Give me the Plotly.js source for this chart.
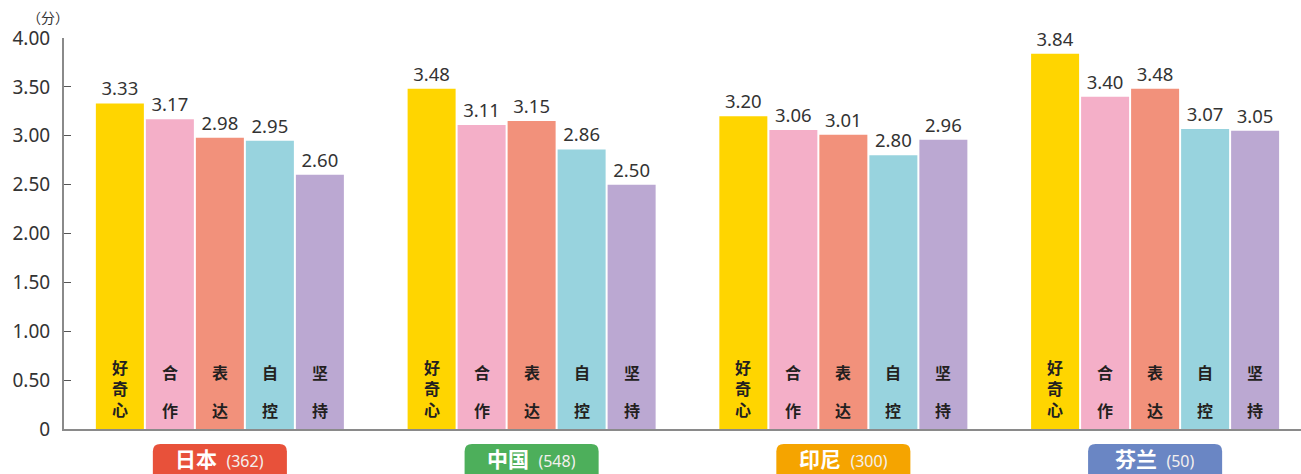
<!DOCTYPE html>
<html>
<head>
<meta charset="utf-8">
<script src="https://cdn.plot.ly/plotly-3.0.1.min.js"></script>
<style>html,body{margin:0;padding:0;background:#fff;}#chart{width:1301px;height:474px;}</style>
</head>
<body>
<div id="chart"></div>
<script>
const countries = ['日本', '中国', '印尼', '芬兰'];
const sampleSizes = [362, 548, 300, 50];
const dimensions = ['好奇心', '合作', '表达', '自控', '坚持'];
const curiosity   = [3.33, 3.48, 3.20, 3.84];
const cooperation = [3.17, 3.11, 3.06, 3.40];
const expression  = [2.98, 3.15, 3.01, 3.48];
const selfControl = [2.95, 2.86, 2.80, 3.07];
const persistence = [2.60, 2.50, 2.96, 3.05];
const yTickVals = [0, 0.5, 1, 1.5, 2, 2.5, 3, 3.5, 4];
const yTickText = ['0', '0.50', '1.00', '1.50', '2.00', '2.50', '3.00', '3.50', '4.00'];
const unitLabel = '（分）';

const seriesValues = [curiosity, cooperation, expression, selfControl, persistence];
const barColors = ['#FFD500', '#F4AFC8', '#F2917B', '#98D3DE', '#BBA8D2'];
const countryColors = ['#E8513A', '#4DAF5B', '#F5A400', '#6A86C4'];
const FONT = 'Noto Sans, Noto Sans CJK SC, sans-serif';
const CJK = 'Noto Sans CJK SC, sans-serif';

const xIdx = countries.map((c, i) => i);
const bargap = 0.198;
const slot = (1 - bargap) / dimensions.length;

const traces = dimensions.map((d, k) => ({
  type: 'bar',
  name: d,
  x: xIdx,
  y: seriesValues[k],
  marker: {color: barColors[k]},
  text: seriesValues[k].map(v => v.toFixed(2)),
  textposition: 'outside',
  textfont: {family: FONT, size: 18.5, color: '#333'},
  cliponaxis: false,
  hoverinfo: 'skip'
}));

// vertical labels inside bars
const annotations = [];
dimensions.forEach((d, k) => {
  const chars = Array.from(d);
  xIdx.forEach(i => {
    const xc = i + (k - 2) * slot;
    if (chars.length === 3) {
      annotations.push({
        x: xc, y: 0.415, xref: 'x', yref: 'y',
        text: '<b>' + chars.join('<br>') + '</b>', showarrow: false,
        font: {family: CJK, size: 16, color: '#231f20'},
        xanchor: 'center', yanchor: 'middle', borderpad: 0
      });
    } else {
      const ys = [0.586, 0.194];
      chars.forEach((ch, j) => {
        annotations.push({
          x: xc, y: ys[j], xref: 'x', yref: 'y',
          text: '<b>' + ch + '</b>', showarrow: false,
          font: {family: CJK, size: 16, color: '#231f20'},
          xanchor: 'center', yanchor: 'middle', borderpad: 0
        });
      });
    }
  });
});

// group label boxes
const shapes = [];
const halfW = 0.215, rx = 0.024;
const yTop = -0.0384, yBot = -0.14, ry = 0.019;
countries.forEach((c, i) => {
  const x0 = i - halfW, x1 = i + halfW;
  const path = `M ${x0 + rx},${yTop} L ${x1 - rx},${yTop} Q ${x1},${yTop} ${x1},${yTop - ry} L ${x1},${yBot} L ${x0},${yBot} L ${x0},${yTop - ry} Q ${x0},${yTop} ${x0 + rx},${yTop} Z`;
  shapes.push({type: 'path', xref: 'x', yref: 'paper', path: path,
    fillcolor: countryColors[i], line: {width: 0}, layer: 'above'});
  annotations.push({
    x: i, y: -0.075, xref: 'x', yref: 'paper', showarrow: false,
    xanchor: 'center', yanchor: 'middle', height: 24, borderpad: 0,
    text: '<b>' + c + '</b>  <span style="font-size:16px;font-family:Noto Sans;color:#f4f0ee">(' + sampleSizes[i] + ')</span>',
    font: {family: CJK, size: 21, color: '#ffffff'}
  });
});

annotations.push({
  x: -0.013, y: 1.022, xref: 'paper', yref: 'paper', xanchor: 'center', yanchor: 'bottom',
  showarrow: false, text: unitLabel, font: {family: CJK, size: 14, color: '#333'}
});

const layout = {
  width: 1301, height: 474,
  margin: {l: 64, r: 0, t: 38, b: 45},
  paper_bgcolor: '#fff', plot_bgcolor: '#fff',
  showlegend: false,
  barmode: 'group',
  bargap: bargap,
  bargroupgap: 0.04,
  xaxis: {
    range: [-0.5, 3.468], showticklabels: false, ticks: '', showgrid: false, zeroline: false,
    showline: true, linecolor: '#8a8a8a', linewidth: 2, fixedrange: true
  },
  yaxis: {
    range: [0, 4], tickvals: yTickVals, ticktext: yTickText,
    ticks: 'inside', ticklen: 7, tickcolor: '#555', tickwidth: 1,
    showline: true, linecolor: '#8a8a8a', linewidth: 2,
    showgrid: false, zeroline: false,
    tickfont: {family: FONT, size: 19, color: '#333'},
    ticklabelstandoff: 8, fixedrange: true
  },
  shapes: shapes,
  annotations: annotations,
  font: {family: FONT}
};

Plotly.newPlot('chart', traces, layout, {displayModeBar: false, staticPlot: true});
</script>
</body>
</html>
